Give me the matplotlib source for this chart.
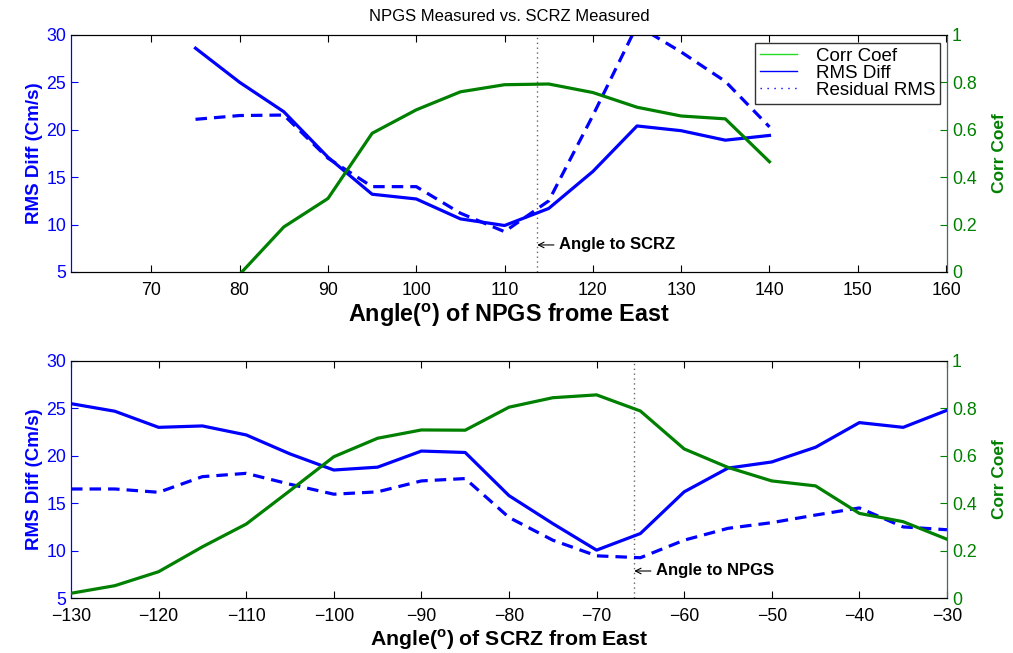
import matplotlib
matplotlib.use('Agg')
import matplotlib.pyplot as plt
from matplotlib.lines import Line2D

plt.rcParams['font.family'] = ['Liberation Sans', 'DejaVu Sans']
plt.rcParams['mathtext.fontset'] = 'custom'
plt.rcParams['mathtext.bf'] = 'Liberation Sans:bold'
plt.rcParams['mathtext.rm'] = 'Liberation Sans'

# NPGS angle sweep
npgs_angle = [75, 80, 85, 90, 95, 100, 105, 110, 115, 120, 125, 130, 135, 140]
npgs_rms = [28.6, 25.0, 21.9, 17.1, 13.2, 12.7, 10.6, 9.9, 11.7, 15.6, 20.4, 19.9, 18.9, 19.4]
npgs_resid = [21.1, 21.5, 21.55, 17.0, 14.0, 14.0, 11.2, 9.25, 12.5, 21.5, 31.0, 28.2, 25.1, 20.3]
npgs_corr = [-0.2, -0.01, 0.19, 0.31, 0.585, 0.684, 0.76, 0.79, 0.793, 0.757, 0.695, 0.658, 0.646, 0.465]
angle_to_scrz = 113.7

# SCRZ angle sweep
scrz_angle = [-130, -125, -120, -115, -110, -105, -100, -95, -90, -85, -80,
              -75, -70, -65, -60, -55, -50, -45, -40, -35, -30]
scrz_rms = [25.5, 24.7, 23.0, 23.15, 22.2, 20.2, 18.5, 18.8, 20.5, 20.35, 15.8,
            12.85, 10.05, 11.8, 16.2, 18.7, 19.35, 20.9, 23.5, 23.0, 24.8]
scrz_resid = [16.5, 16.5, 16.15, 17.8, 18.15, 17.0, 15.95, 16.2, 17.35, 17.6, 13.5,
              11.1, 9.45, 9.25, 11.1, 12.35, 12.95, 13.75, 14.5, 12.5, 12.2]
scrz_corr = [0.02, 0.052, 0.111, 0.216, 0.312, 0.453, 0.596, 0.674, 0.709, 0.708, 0.805,
             0.845, 0.857, 0.789, 0.629, 0.551, 0.494, 0.473, 0.357, 0.322, 0.248]
angle_to_npgs = -65.7

blue = '#0000ff'
green = '#008000'
lw = 2.3
tick_fs = 12.8


def panel(ax, x, rms, resid, corr, xlim, xticks, vline, note, xlabel, xlabel_fs):
    ax.plot(x, rms, color=blue, lw=lw, zorder=3)
    ax.plot(x, resid, color=blue, lw=lw, ls=(0, (3.6, 2.2)), zorder=3)
    ax.axvline(vline, color='#666666', lw=1.0, ls=(0, (1, 2.5)), zorder=2)
    ax.set_xlim(*xlim)
    ax.set_ylim(5, 30)
    ax.set_xticks(xticks)
    ax.set_yticks([5, 10, 15, 20, 25, 30])
    ax.tick_params(axis='x', direction='in', top=True, labelsize=tick_fs, length=5, pad=7)
    ax.tick_params(axis='y', direction='in', colors=blue, labelsize=tick_fs, length=5)
    ax.spines['left'].set_color(blue)
    ax.set_ylabel('RMS Diff (Cm/s)', color=blue, fontsize=13.5, fontweight='bold', labelpad=2)
    ax.set_xlabel(xlabel, fontsize=xlabel_fs, fontweight='bold', labelpad=2)
    ax.annotate('', xy=(vline, 7.85), xytext=(12, 0), textcoords='offset points',
                arrowprops=dict(arrowstyle='->', lw=0.8, color='k',
                                shrinkA=0, shrinkB=0), zorder=4)
    ax.annotate(note, xy=(vline, 7.85), xytext=(16, 0), textcoords='offset points',
                va='center', ha='left', fontsize=12, fontweight='bold')

    ax2 = ax.twinx()
    ax2.plot(x, corr, color=green, lw=lw, zorder=3)
    ax2.set_ylim(0, 1)
    ax2.set_yticks([0, 0.2, 0.4, 0.6, 0.8, 1])
    ax2.set_yticklabels(['0', '0.2', '0.4', '0.6', '0.8', '1'])
    ax2.tick_params(axis='y', direction='in', colors=green, labelsize=tick_fs, length=5)
    ax2.spines['right'].set_color('#2f6f7f')
    ax2.spines['left'].set_color(blue)
    ax2.set_ylabel('Corr Coef', color=green, fontsize=12.5, fontweight='bold', labelpad=11)
    return ax2


fig = plt.figure(figsize=(10.13, 6.53), dpi=100)
ax_top = fig.add_axes([0.0701, 0.5835, 0.8647, 0.363])
ax_bot = fig.add_axes([0.0701, 0.0842, 0.8647, 0.363])

top2 = panel(ax_top, npgs_angle, npgs_rms, npgs_resid, npgs_corr, (60.9, 160.1),
             range(70, 161, 10), angle_to_scrz, 'Angle to SCRZ',
             r'Angle($^{\mathbf{o}}$) of NPGS frome East', 16.8)
panel(ax_bot, scrz_angle, scrz_rms, scrz_resid, scrz_corr, (-130, -30),
      range(-130, -29, 10), angle_to_npgs, 'Angle to NPGS',
      r'Angle($^{\mathbf{o}}$) of SCRZ from East', 15.3)

ax_top.set_title('NPGS Measured vs. SCRZ Measured', fontsize=12, pad=10)

handles = [Line2D([], [], color='#22dd22', lw=1),
           Line2D([], [], color=blue, lw=1),
           Line2D([], [], color=blue, lw=1, ls=(0, (1, 4)))]
leg = top2.legend(handles, ['Corr Coef', 'RMS Diff', 'Residual RMS'],
                  loc='upper right', bbox_to_anchor=(0.992, 0.966),
                  fontsize=13.5, frameon=True, fancybox=False,
                  borderaxespad=0, handlelength=2.0, handletextpad=1.0,
                  labelspacing=0.0, borderpad=0.25)
leg.get_frame().set_edgecolor('k')
leg.get_frame().set_linewidth(1.0)

fig.savefig('out.png', dpi=100)
